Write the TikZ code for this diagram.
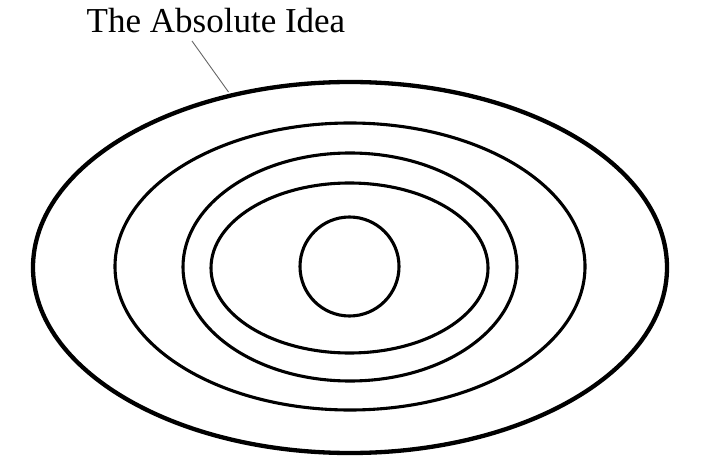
\documentclass[tikz,border=0pt]{standalone}
\usepackage{fontspec}
\setmainfont{Liberation Serif}
\begin{document}
\begin{tikzpicture}[x=1pt,y=-1pt,
  ring/.style={draw=black,line width=3.1pt},
  outerring/.style={draw=black,line width=4.3pt},
  leader/.style={draw=black!60,line width=0.9pt}]
\path[use as bounding box] (0,0) rectangle (714,470);
\node[anchor=base,inner sep=0pt,font=\fontsize{35}{40}\selectfont] (label) at (216,33) {The Absolute Idea};
\draw[outerring] (350,267.5) ellipse [x radius=317, y radius=185.5];
\draw[ring] (350,266.5) ellipse [x radius=235, y radius=143.5];
\draw[ring] (350,267) ellipse [x radius=167, y radius=114];
\draw[ring] (349.5,268) ellipse [x radius=138.5, y radius=85];
\draw[ring] (349.5,266.5) circle [radius=49.5];
\coordinate (top) at (192,41);
\coordinate (touch) at (228.5,92);
\draw[leader] (top) -- (touch);
\end{tikzpicture}
\end{document}
